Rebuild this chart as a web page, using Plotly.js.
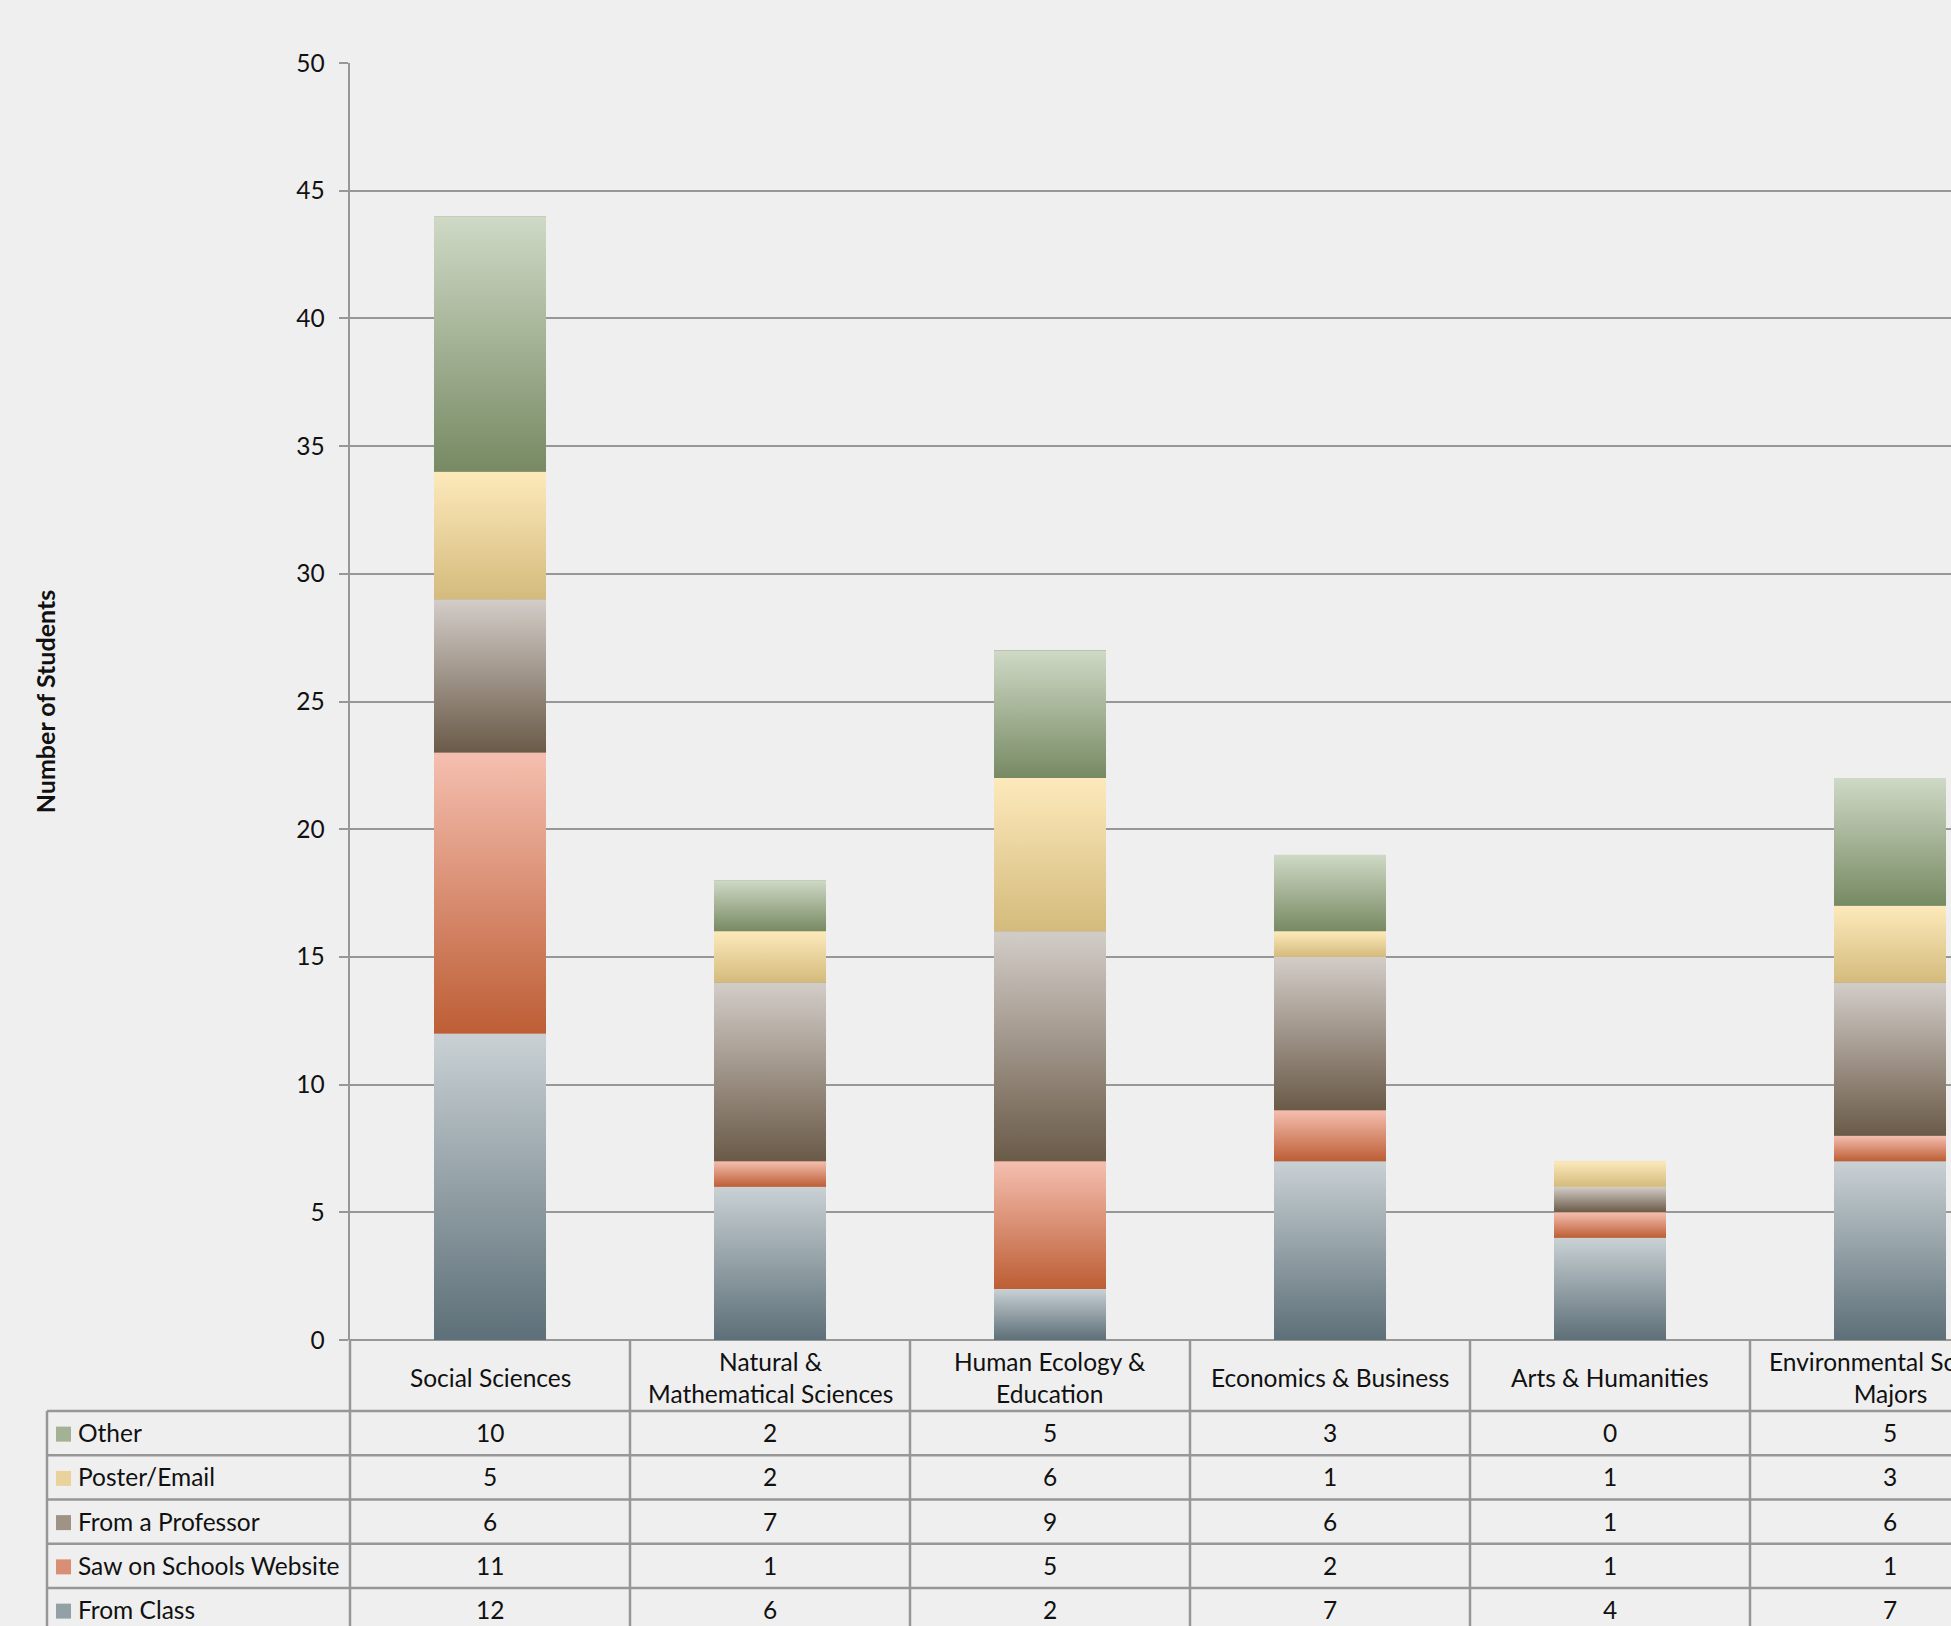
<!DOCTYPE html>
<html>
<head>
<meta charset="utf-8">
<script src="https://cdn.plot.ly/plotly-3.0.1.min.js"></script>
<style>
  html, body { margin: 0; padding: 0; background: #efefef; overflow: hidden; }
  #chart { width: 1951px; height: 1626px; }
</style>
</head>
<body>
<div id="chart"></div>
<script>
// ---------- DATA ----------
const categories = [
  'Social Sciences',
  'Natural &<br>Mathematical Sciences',
  'Human Ecology &<br>Education',
  'Economics & Business',
  'Arts & Humanities',
  'Environmental Science<br>Majors'
];
const seriesNames = ['From Class', 'Saw on Schools Website', 'From a Professor', 'Poster/Email', 'Other'];
const fromClass     = [12, 6, 2, 7, 4, 7];
const sawWebsite    = [11, 1, 5, 2, 1, 1];
const fromProfessor = [ 6, 7, 9, 6, 1, 6];
const posterEmail   = [ 5, 2, 6, 1, 1, 3];
const other         = [10, 2, 5, 3, 0, 5];
const yTickValues   = [0, 5, 10, 15, 20, 25, 30, 35, 40, 45, 50];
const yAxisTitle    = 'Number of Students';

// ---------- STYLE ----------
const seriesValues = [fromClass, sawWebsite, fromProfessor, posterEmail, other];
const gradTop    = ['#c9d1d4', '#f5bfb0', '#d3cdc8', '#fde9bb', '#cfd9c6'];
const gradBottom = ['#5d6f78', '#bd5e35', '#6a5a48', '#d4bb7c', '#778a63'];
const gradMid    = ['#93a0a6', '#d98f73', '#9f9388', '#e9d29c', '#a3b295'];

const W = 1951, H = 1626;
const plotLeft = 350, plotTop = 63, plotBottom = 1340;
const catPx = 280;                 // pixel width of one category slot
const barWidth = 0.4;
const xMin = -0.5;
const xMax = xMin + (W - plotLeft) / catPx;
const lineCol = '#979797';
const textCol = '#111111';
const FONT = 'Lato, "Open Sans", "DejaVu Sans", sans-serif';
const fs = 24.5;

const px2py = p => (plotBottom - p) / (plotBottom - plotTop);   // pixel y -> paper y
const px2px = p => (p - plotLeft) / (W - plotLeft);             // pixel x -> paper x

const xIdx = categories.map((c, i) => i);

// ---------- TRACES ----------
const traces = [];
// real stacked bars (base colour)
seriesValues.forEach((vals, s) => {
  traces.push({
    type: 'bar',
    name: seriesNames[s],
    x: xIdx,
    y: vals,
    width: barWidth,
    marker: { color: gradMid[s], line: { width: 0 } },
    showlegend: false,
    hoverinfo: 'name+y'
  });
});
// gradient overlays for each stacked segment, derived from the same arrays
const bases = categories.map(() => 0);
seriesValues.forEach((vals, s) => {
  vals.forEach((v, i) => {
    const b = bases[i], t = b + v;
    bases[i] = t;
    if (v <= 0) return;
    traces.push({
      type: 'scatter',
      mode: 'lines',
      x: [i - barWidth / 2, i + barWidth / 2, i + barWidth / 2, i - barWidth / 2, i - barWidth / 2],
      y: [b, b, t, t, b],
      fill: 'toself',
      fillcolor: gradMid[s],
      fillgradient: { type: 'vertical', colorscale: [[0, gradBottom[s]], [1, gradTop[s]]] },
      line: { width: 0, color: 'rgba(0,0,0,0)' },
      hoverinfo: 'skip',
      showlegend: false
    });
  });
});

// ---------- TABLE (shapes + annotations) ----------
const shapes = [];
const annotations = [];
const headerBottom = 1411;
const rowH = 44.25;
const tableLeft = 47;
const tableBottomPx = H + 20;
const nRows = seriesNames.length;

// horizontal lines
for (let k = 0; k < nRows; k++) {
  const yy = px2py(headerBottom + k * rowH);
  shapes.push({ type: 'line', xref: 'paper', yref: 'paper', x0: px2px(tableLeft), x1: 1.01, y0: yy, y1: yy,
    line: { color: lineCol, width: 2.5 } });
}
// left border of legend column
shapes.push({ type: 'line', xref: 'paper', yref: 'paper', x0: px2px(tableLeft), x1: px2px(tableLeft),
  y0: px2py(headerBottom), y1: px2py(tableBottomPx), line: { color: lineCol, width: 2.5 } });
// left border of data columns (plot left edge)
shapes.push({ type: 'line', xref: 'paper', yref: 'paper', x0: 0, x1: 0,
  y0: 0, y1: px2py(tableBottomPx), line: { color: lineCol, width: 2.5 } });
// category separators
categories.forEach((c, i) => {
  if (i === categories.length - 1) return;
  shapes.push({ type: 'line', xref: 'x', yref: 'paper', x0: i + 0.5, x1: i + 0.5,
    y0: 0, y1: px2py(tableBottomPx), line: { color: lineCol, width: 2.5 } });
});

// header labels
categories.forEach((c, i) => {
  annotations.push({ xref: 'x', yref: 'paper', x: i, y: px2py((plotBottom + headerBottom) / 2 + 2),
    text: c, showarrow: false, xanchor: 'center', yanchor: 'middle', align: 'center',
    font: { family: FONT, size: fs, color: textCol } });
});
// rows: top row is the last series (Other)
for (let r = 0; r < nRows; r++) {
  const s = nRows - 1 - r;
  const cy = headerBottom + r * rowH + rowH / 2 - 0.5;
  // legend swatch
  shapes.push({ type: 'rect', xref: 'paper', yref: 'paper',
    x0: px2px(56), x1: px2px(71), y0: px2py(cy - 6), y1: px2py(cy + 9),
    fillcolor: gradMid[s], line: { width: 0 } });
  annotations.push({ xref: 'paper', yref: 'paper', x: px2px(76), y: px2py(cy),
    text: seriesNames[s], showarrow: false, xanchor: 'left', yanchor: 'middle',
    font: { family: FONT, size: fs, color: textCol } });
  seriesValues[s].forEach((v, i) => {
    annotations.push({ xref: 'x', yref: 'paper', x: i, y: px2py(cy),
      text: String(v), showarrow: false, xanchor: 'center', yanchor: 'middle',
      font: { family: FONT, size: fs, color: textCol } });
  });
}

// ---------- LAYOUT ----------
const layout = {
  width: W, height: H,
  margin: { l: plotLeft, r: 0, t: plotTop, b: H - plotBottom, pad: 0 },
  paper_bgcolor: '#efefef',
  plot_bgcolor: '#efefef',
  barmode: 'stack',
  bargap: 0.6,
  showlegend: false,
  font: { family: FONT, size: fs, color: textCol },
  xaxis: {
    type: 'linear', range: [xMin, xMax], fixedrange: true,
    showgrid: false, zeroline: false, showline: false, showticklabels: false, ticks: ''
  },
  yaxis: {
    range: [0, 50], tickmode: 'array', tickvals: yTickValues, fixedrange: true,
    showline: true, linecolor: lineCol, linewidth: 2.5,
    ticks: 'outside', ticklen: 9, tickwidth: 2, tickcolor: lineCol,
    showgrid: true, gridcolor: lineCol, gridwidth: 2,
    zeroline: true, zerolinecolor: lineCol, zerolinewidth: 2.5,
    ticklabelstandoff: 9,
    tickfont: { family: FONT, size: fs, color: textCol },
    title: { text: yAxisTitle, standoff: 233.5,
      font: { family: FONT, size: 25, color: textCol, weight: 'bold' } }
  },
  shapes: shapes,
  annotations: annotations
};

Plotly.newPlot('chart', traces, layout, { displayModeBar: false, staticPlot: true });
</script>
</body>
</html>
